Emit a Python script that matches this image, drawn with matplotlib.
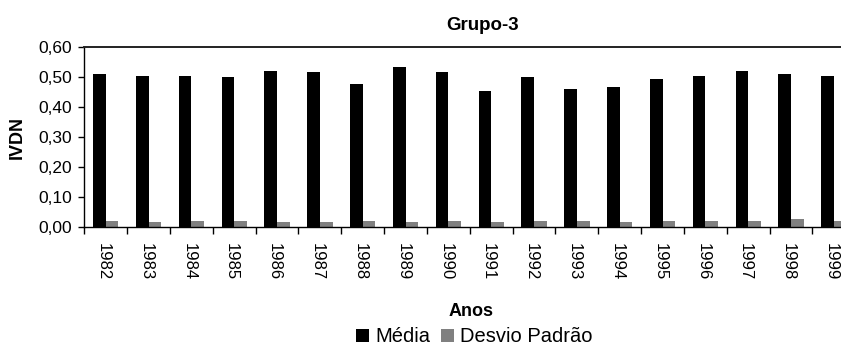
import matplotlib
matplotlib.use("Agg")
import matplotlib.pyplot as plt
import matplotlib.transforms as mtransforms
import numpy as np

# NDVI statistics per year for group 3
anos = ["1982", "1983", "1984", "1985", "1986", "1987", "1988", "1989", "1990",
        "1991", "1992", "1993", "1994", "1995", "1996", "1997", "1998", "1999"]
media = [0.511, 0.505, 0.505, 0.500, 0.522, 0.517, 0.478, 0.533, 0.517,
         0.454, 0.500, 0.460, 0.467, 0.494, 0.505, 0.522, 0.511, 0.505]
desvio = [0.022, 0.017, 0.022, 0.022, 0.017, 0.017, 0.022, 0.017, 0.022,
          0.017, 0.022, 0.022, 0.017, 0.022, 0.022, 0.022, 0.029, 0.022]
y_ticks = [0.0, 0.1, 0.2, 0.3, 0.4, 0.5, 0.6]

plt.rcParams["font.family"] = ["Liberation Sans", "DejaVu Sans"]

W, H = 841, 347
fig = plt.figure(figsize=(W / 100, H / 100), dpi=100)
ax = fig.add_axes([84.3 / W, 1 - 227.3 / H, 771 / W, 180 / H])

x = np.arange(len(anos))
w = 0.295
ax.bar(x - w / 2, media, width=w, color="black", label="Média", zorder=2)
ax.bar(x + w / 2, desvio, width=w, color="#808080", label="Desvio Padrão", zorder=2)

ax.set_xlim(-0.5, len(anos) - 0.5)
ax.set_ylim(0, 0.6)

ax.set_yticks(y_ticks)
ax.set_yticklabels([f"{v:.2f}".replace(".", ",") for v in y_ticks], fontsize=12.5)
ax.tick_params(axis="y", direction="out", length=4, width=1, pad=5)

# boundary ticks without labels, year labels at category centres
ax.set_xticks(np.arange(len(anos) + 1) - 0.5)
ax.set_xticklabels([])
ax.set_xticks(x, minor=True)
ax.set_xticklabels(anos, minor=True, rotation=-90, fontsize=12)
ax.tick_params(axis="x", which="major", direction="out", length=5, width=1)
ax.tick_params(axis="x", which="minor", length=0, pad=11)
shift = mtransforms.ScaledTranslation(-2.5 / 100, 0, fig.dpi_scale_trans)
for lbl in ax.get_xticklabels(minor=True):
    lbl.set_transform(lbl.get_transform() + shift)

for side in ("left", "bottom", "top"):
    ax.spines[side].set_color("black")
    ax.spines[side].set_linewidth(1.0)
ax.spines["top"].set_linewidth(1.4)
ax.spines["top"].set_color("#222222")
ax.spines["right"].set_visible(False)

fig.text(483 / W, 1 - 25 / H, "Grupo-3", ha="center", va="center",
         fontsize=13.5, fontweight="bold")
fig.text(17 / W, 1 - 137 / H, "IVDN", ha="center", va="center", rotation=90,
         fontsize=13, fontweight="bold")
fig.text(471 / W, 1 - 311 / H, "Anos", ha="center", va="center",
         fontsize=13, fontweight="bold")

fig.legend(loc="center", bbox_to_anchor=(474.5 / W, 1 - 337 / H), ncol=2,
           frameon=False, fontsize=14.5, handlelength=0.65, handleheight=0.65,
           handletextpad=0.3, columnspacing=0.55, borderpad=0, borderaxespad=0)

fig.savefig("out.png", dpi=100)
